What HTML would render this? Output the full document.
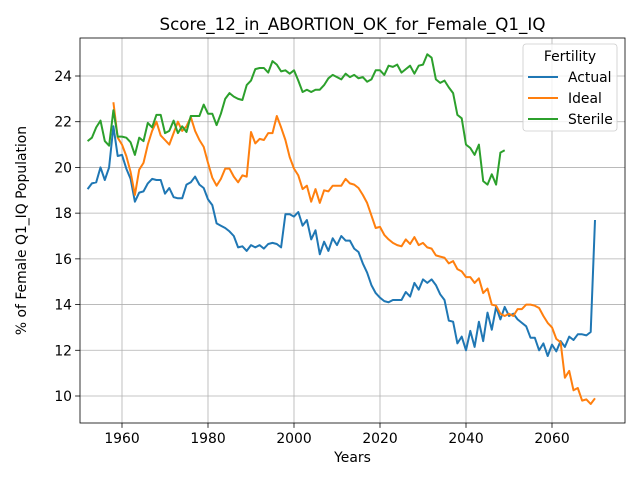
<!DOCTYPE html>
<html><head><meta charset="utf-8"><style>
body{margin:0;background:#fff;font-family:"Liberation Sans","DejaVu Sans",sans-serif}
svg text{font-family:"DejaVu Sans","Liberation Sans",sans-serif}
</style></head><body>
<svg id="c" width="640" height="480" xmlns="http://www.w3.org/2000/svg"></svg>
<script>
const actualStart=1952;
const actualVals=[19.05,19.3,19.35,20.0,19.45,20.0,21.8,20.5,20.55,19.95,19.5,18.5,18.9,18.95,19.3,19.5,19.45,19.45,18.85,19.1,18.7,18.65,18.65,19.25,19.35,19.6,19.25,19.1,18.6,18.35,17.55,17.45,17.35,17.2,17.0,16.5,16.55,16.35,16.6,16.5,16.6,16.45,16.65,16.7,16.65,16.5,17.95,17.95,17.85,18.05,17.45,17.7,16.85,17.25,16.2,16.75,16.35,16.9,16.6,17.0,16.8,16.8,16.45,16.3,15.8,15.4,14.85,14.5,14.3,14.15,14.1,14.2,14.2,14.2,14.55,14.35,14.95,14.65,15.1,14.95,15.1,14.85,14.45,14.2,13.3,13.25,12.3,12.6,12.0,12.85,12.15,13.25,12.4,13.65,12.9,13.9,13.35,13.9,13.5,13.6,13.35,13.2,13.05,12.55,12.55,12.0,12.3,11.75,12.25,11.95,12.4,12.15,12.6,12.45,12.7,12.7,12.65,12.8,17.7];
const idealStart=1958;
const idealVals=[22.85,21.3,21.0,20.5,19.8,18.8,19.9,20.2,21.0,21.6,22.0,21.4,21.2,21.0,21.5,22.0,21.6,21.8,22.2,21.6,21.2,20.9,20.2,19.55,19.2,19.5,19.95,19.95,19.6,19.35,19.65,19.6,21.55,21.05,21.25,21.2,21.5,21.5,22.25,21.75,21.2,20.45,19.95,19.65,19.05,19.2,18.5,19.05,18.45,19.0,18.95,19.2,19.2,19.2,19.5,19.3,19.25,19.1,18.8,18.45,17.9,17.35,17.4,17.05,16.85,16.7,16.6,16.55,16.85,16.65,16.95,16.6,16.7,16.5,16.45,16.15,16.1,16.05,15.8,15.9,15.55,15.45,15.2,15.2,14.95,15.15,14.5,14.7,14.0,13.95,13.6,13.5,13.6,13.5,13.8,13.8,14.0,14.0,13.95,13.85,13.5,13.2,13.0,12.5,12.35,10.8,11.1,10.25,10.35,9.8,9.85,9.65,9.9];
const sterileStart=1952;
const sterileVals=[21.15,21.3,21.75,22.05,21.15,20.95,22.5,21.35,21.35,21.3,21.1,20.55,21.3,21.15,21.95,21.75,22.3,22.3,21.5,21.6,22.05,21.5,21.8,21.55,22.25,22.25,22.25,22.75,22.35,22.35,21.85,22.35,23.0,23.25,23.1,23.0,22.95,23.6,23.8,24.3,24.35,24.35,24.15,24.65,24.5,24.2,24.25,24.1,24.25,23.8,23.3,23.4,23.3,23.4,23.4,23.6,23.9,24.05,23.95,23.85,24.1,23.95,24.05,23.9,23.95,23.75,23.85,24.25,24.25,24.05,24.45,24.4,24.5,24.15,24.3,24.45,24.1,24.45,24.5,24.95,24.8,23.85,23.7,23.8,23.5,23.25,22.3,22.15,21.0,20.85,20.55,21.0,19.4,19.25,19.7,19.25,20.65,20.75];
const xTicks=[1960,1980,2000,2020,2040,2060];
const yTicks=[10,12,14,16,18,20,22,24];
const seriesNames=["Actual","Ideal","Sterile"];
const colors=["#1f77b4","#ff7f0e","#2ca02c"];

const L=80,R=625,T=38,B=423;
const X=y=>122+(y-1960)*4.3;
const Y=v=>396-(v-10)*22.857;
const svg=document.getElementById('c');
const NS="http://www.w3.org/2000/svg";
function mk(tag,attrs,parent){const e=document.createElementNS(NS,tag);for(const k in attrs)e.setAttribute(k,attrs[k]);(parent||svg).appendChild(e);return e;}

const grid=mk('g',{});


xTicks.forEach(t=>{
 const l=mk('line',{x1:X(t),x2:X(t),y1:T,y2:B,stroke:'#b0b0b0','stroke-width':0.8},grid);
 
 
 mk('line',{x1:X(t),x2:X(t),y1:B,y2:B+4.9,stroke:'#000','stroke-width':0.8});
 const tx=mk('text',{x:X(t),y:B+20,'text-anchor':'middle','font-size':13.9});
 tx.textContent=t;
 
 
});
yTicks.forEach(t=>{
 const l=mk('line',{x1:L,x2:R,y1:Y(t),y2:Y(t),stroke:'#b0b0b0','stroke-width':0.8},grid);
 
 
 mk('line',{x1:L-4.9,x2:L,y1:Y(t),y2:Y(t),stroke:'#000','stroke-width':0.8});
 const tx=mk('text',{x:L-8,y:Y(t)+5,'text-anchor':'end','font-size':13.9});
 tx.textContent=t;
 
 
});

[[actualStart,actualVals],[idealStart,idealVals],[sterileStart,sterileVals]].forEach((s,i)=>{
 const pts=s[1].map((v,j)=>X(s[0]+j).toFixed(1)+','+Y(v).toFixed(1)).join(' ');
 const p=mk('polyline',{points:pts,fill:'none',stroke:colors[i],'stroke-width':2,'stroke-linejoin':'round'});
 
 
});

const frame=mk('rect',{x:L,y:T,width:R-L,height:B-T,fill:'none',stroke:'#000','stroke-width':0.8});



const title=mk('text',{x:(L+R)/2,y:30,'text-anchor':'middle','font-size':16.7});
title.textContent='Score_12_in_ABORTION_OK_for_Female_Q1_IQ';


const xl=mk('text',{x:(L+R)/2,y:462,'text-anchor':'middle','font-size':13.9});
xl.textContent='Years';


const yl=mk('text',{x:0,y:0,'text-anchor':'middle','font-size':13.9,transform:'translate(26,'+((T+B)/2)+') rotate(-90)'});
yl.textContent='% of Female Q1_IQ Population';



const lg=mk('g',{});


mk('rect',{x:523,y:44,width:94,height:87,rx:3,fill:'#fff','fill-opacity':0.8,stroke:'#ccc','stroke-width':0.8},lg);
const lt=mk('text',{x:570,y:61,'text-anchor':'middle','font-size':13.9},lg);
lt.textContent='Fertility';
seriesNames.forEach((n,i)=>{
 const yy=77+i*21;
 const e=mk('g',{},lg);
 
 
 mk('line',{x1:528,x2:558,y1:yy,y2:yy,stroke:colors[i],'stroke-width':2},e);
 const t=mk('text',{x:568,y:yy+5,'font-size':13.9},e);
 t.textContent=n;
});
</script>
</body></html>
